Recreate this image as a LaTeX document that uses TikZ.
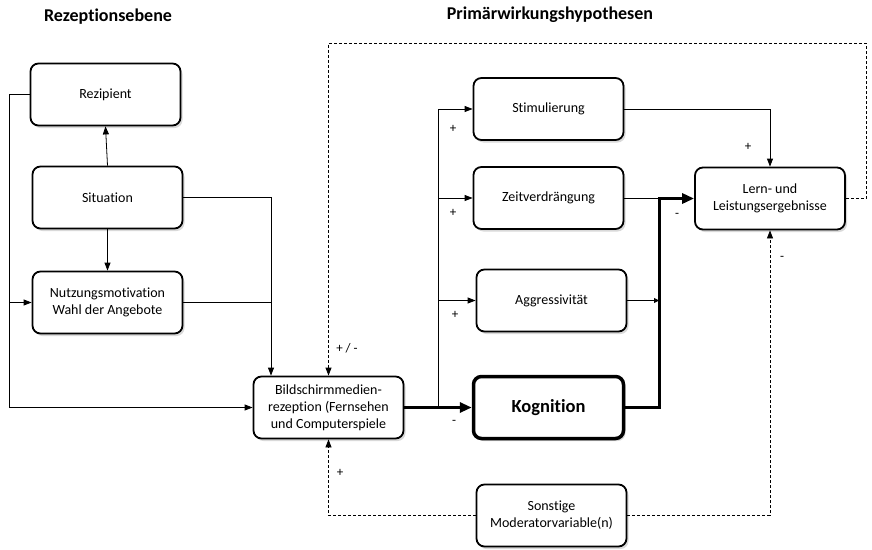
\documentclass[tikz,border=0pt]{standalone}
\usepackage{fontspec}
\setmainfont[Ligatures=NoCommon]{Carlito}
\usetikzlibrary{arrows.meta,positioning,shadows}

\begin{document}
\begin{tikzpicture}[x=1pt,y=-1pt,
    box/.style={draw,line width=1.8pt,rounded corners=8pt,fill=white,
      minimum width=150pt,minimum height=62pt,align=center,
      font=\fontsize{14}{17}\selectfont,
      drop shadow={shadow xshift=2pt,shadow yshift=-2.5pt,opacity=0.3}},
    arr/.style={-{Triangle[length=8pt,width=6pt]},line width=0.8pt},
    bigarr/.style={-{Triangle[length=12pt,width=10pt]},line width=3pt},
    dashline/.style={dashed,dash pattern=on 3pt off 2pt,line width=0.8pt},
    sign/.style={font=\fontsize{13}{14}\selectfont}]
    \useasboundingbox (0,0) rectangle (872,549);
    % headings
    \node[font=\fontsize{18}{20}\selectfont\bfseries] (hrez) at (108,17) {Rezeptionsebene};
    \node[font=\fontsize{18}{20}\selectfont\bfseries] (hprim) at (550,15) {Primärwirkungshypothesen};
    % boxes
    \node[box] (rez)   at (105.5,94.5)  {Rezipient};
    \node[box] (sit)   at (107.5,197.5) {Situation};
    \node[box] (nutz)  at (107.5,302.5) {Nutzungsmotivation\\Wahl der Angebote};
    \node[box] (bild)  at (328.5,407.5) {Bildschirmmedien-\\rezeption (Fernsehen\\und Computerspiele};
    \node[box] (stim)  at (548.5,109)   {Stimulierung};
    \node[box] (zeit)  at (548.5,198)   {Zeitverdrängung};
    \node[box] (aggr)  at (551.5,300.5) {Aggressivität};
    \node[box,line width=3.5pt,font=\fontsize{18.5}{20}\selectfont\bfseries] (kog) at (548.5,407.5) {Kognition};
    \node[box] (lern)  at (770,198.5)   {Lern- und\\Leistungsergebnisse};
    \node[box] (sonst) at (551.5,515.5) {Sonstige\\Moderatorvariable(n)};
    % helper coordinates
    \coordinate (lx) at (9,0);
    \coordinate (mx) at (271,0);
    \coordinate (br) at (438,407.5);
    \coordinate (jx) at (659,0);
    \coordinate (tr) at (866,43);
    % left part
    \draw[arr] (sit.north) -- (rez.south);
    \draw[arr] (sit.south) -- (nutz.north);
    \draw[arr] (rez.west) -- (rez.west -| lx) -- (bild.west -| lx) -- (bild.west);
    \draw[arr] (nutz.west -| lx) -- (nutz.west);
    \draw[arr] (sit.east) -| (bild.north -| mx);
    \draw[line width=0.8pt] (nutz.east) -- (nutz.east -| mx);
    % feedback (dashed)
    \draw[dashline,arr] (lern.east) -| (tr) -| (bild.north);
    \draw[dashline,arr] (sonst.west) -| (bild.south);
    \draw[dashline,arr] (sonst.east) -| (lern.south);
    % effects
    \draw[bigarr] (bild.east) -- (kog.west);
    \draw[arr] (br) |- (stim.west);
    \draw[arr] (br |- zeit.west) -- (zeit.west);
    \draw[arr] (br |- aggr.west) -- (aggr.west);
    \draw[arr] (stim.east) -| (lern.north);
    \draw[bigarr] (kog.east) -| (jx |- lern.west) -- (lern.west);
    \draw[line width=0.8pt] (zeit.east) -- (zeit.east -| jx);
    \draw[-{Triangle[length=5pt,width=5pt]},line width=0.8pt] (aggr.east) -- (aggr.east -| jx);
    % signs
    \node[sign] (s1) at (347,348) {+ / -};
    \node[sign] (s2) at (340,473) {+};
    \node[sign] (s3) at (453,129) {+};
    \node[sign] (s4) at (453,213) {+};
    \node[sign] (s5) at (455,315) {+};
    \node[sign] (s6) at (454,422) {-};
    \node[sign] (s7) at (748,147) {+};
    \node[sign] (s8) at (677,215) {-};
    \node[sign] (s9) at (782,258) {-};
\end{tikzpicture}
\end{document}
